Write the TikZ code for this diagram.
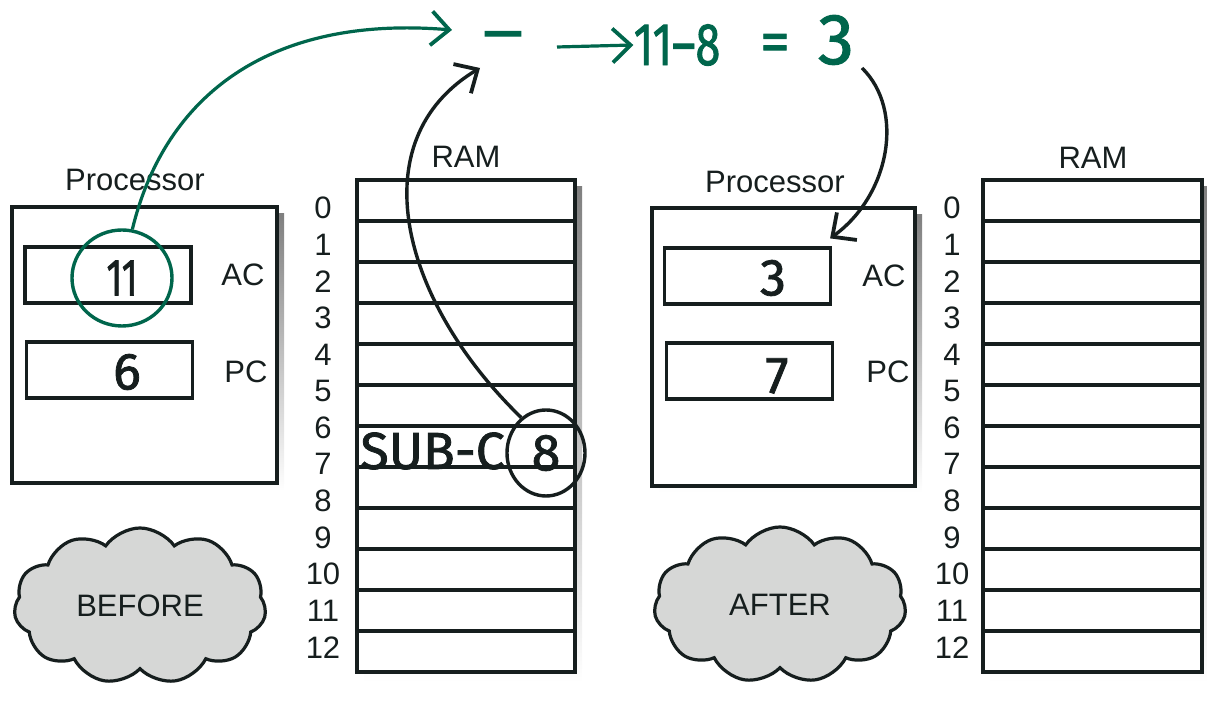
\documentclass[tikz,border=0pt]{standalone}
\usepackage{fontspec}
\setmainfont{Liberation Sans}
\newfontfamily\hand{Fira Sans}[FakeBold=1.5]
\usetikzlibrary{arrows.meta,shapes.symbols,shapes.geometric}
\definecolor{pen}{RGB}{0,102,76}
\definecolor{ink}{RGB}{22,30,30}
\definecolor{shade}{RGB}{228,228,228}
\definecolor{cloudfill}{RGB}{214,215,214}
\begin{document}
\begin{tikzpicture}[x=0.5pt,y=-0.5pt,
  lbl/.style={font=\fontsize{15.5}{17}\selectfont, text=ink, inner sep=0pt},
  box/.style={draw=ink, line width=1.6pt, fill=white, inner sep=0pt},
  regbox/.style={box, minimum width=83pt, minimum height=28pt},
  rowbox/.style={box, minimum height=20.5pt},
  hw/.style={font=\hand\fontsize{26}{28}\selectfont, text=ink, inner sep=0pt},
  greenhw/.style={font=\hand\fontsize{30}{32}\selectfont, text=pen, inner sep=0pt},
  blackcurve/.style={draw=ink, line width=1.7pt, -{Straight Barb[length=9pt,width=17pt,line width=1.9pt]}},
  greencurve/.style={draw=pen, line width=1.6pt, -{Straight Barb[length=9pt,width=17pt,line width=1.9pt]}},
  cloudnode/.style={cloud, cloud puffs=11, cloud puff arc=110, aspect=1.6, draw=ink, fill=cloudfill, line width=1.6pt, minimum width=126pt, minimum height=78pt, lbl}
]
\useasboundingbox (0,0) rectangle (1207,704);
% shadows
\fill[shade] (19,214) rectangle (284,491);
\fill[shade] (659,215) rectangle (922,493);
\fill[shade] (364,187) rectangle (582,682);
\fill[shade] (990,187) rectangle (1209,682);

% left processor
\node[box, minimum width=132.5pt, minimum height=138pt] (procL) at (144.5,345) {};
\node[lbl] (procLt) at (135,180) {Processor};
\node[regbox] (acL) at (108,275) {};
\node[regbox] (pcL) at (109.5,370) {};
\node[lbl] (acLt) at (243,275) {AC};
\node[lbl] (pcLt) at (246,372) {PC};
\node[hw] (v6) at (127,372) {6};

% right processor
\node[box, minimum width=131.5pt, minimum height=139pt] (procR) at (783.5,347) {};
\node[lbl] (procRt) at (775,182) {Processor};
\node[regbox] (acR) at (747.5,276) {};
\node[regbox] (pcR) at (749.5,371) {};
\node[lbl] (acRt) at (884,276) {AC};
\node[lbl] (pcRt) at (888,372) {PC};
\node[hw] (v3) at (773,278) {3};
\node[hw] (v7) at (777,376) {7};

% RAM
\foreach \k in {0,...,11} {
  \node[rowbox, minimum width=109pt] (ramL-\k) at (466,{180+41*(\k+0.5)}) {};
  \node[rowbox, minimum width=109.5pt] (ramR-\k) at (1092.5,{180+41*(\k+0.5)}) {};
}
\foreach \k in {0,...,12} {
  \node[lbl] (numL-\k) at (323,{208+36.6*\k}) {\k};
  \node[lbl] (numR-\k) at (952,{208+36.6*\k}) {\k};
}
\node[lbl] (ramLt) at (466,157) {RAM};
\node[lbl] (ramRt) at (1093,158) {RAM};

\node[hw, anchor=west] (subc) at (360,451) {SUB-C};
\node[ellipse, draw=ink, line width=1.7pt, minimum width=39pt, minimum height=43pt, inner sep=0pt, hw] (c8) at (546,453) {8};

% circled 11
\node[ellipse, draw=pen, line width=1.7pt, minimum width=50pt, minimum height=48pt, inner sep=0pt, hw] (c11) at (122,278) {\scalebox{0.7}[1]{11}};

% clouds
\node[cloudnode] (before) at (140,606) {BEFORE};
\node[cloudnode] (after) at (780,605) {AFTER};

% green expression
\node[greenhw] (minus) at (503,42) {\scalebox{1.3}[1]{–}};
\coordinate (arrA) at (557,47);
\node[greenhw] (expr) at (677,45) {\scalebox{0.75}[1]{11–8}};
\node[greenhw] (eq) at (775,48) {=};
\node[greenhw] (three) at (836,40) {\fontsize{36}{38}\selectfont 3};
\draw[greencurve] (arrA) -- (expr.west);

% connectors
\coordinate (gtip) at (452,30);
\draw[greencurve] (c11.78) .. controls (165,95) and (270,15) .. (gtip);
\coordinate (btip) at (480,68);
\draw[blackcurve] (c8.125) .. controls (400,300) and (360,140) .. (btip);
\coordinate (s3) at (862,68);
\draw[blackcurve] (s3) .. controls (905,110) and (890,195) .. ([shift={(-1pt,4pt)}]acR.north east);
\end{tikzpicture}
\end{document}
